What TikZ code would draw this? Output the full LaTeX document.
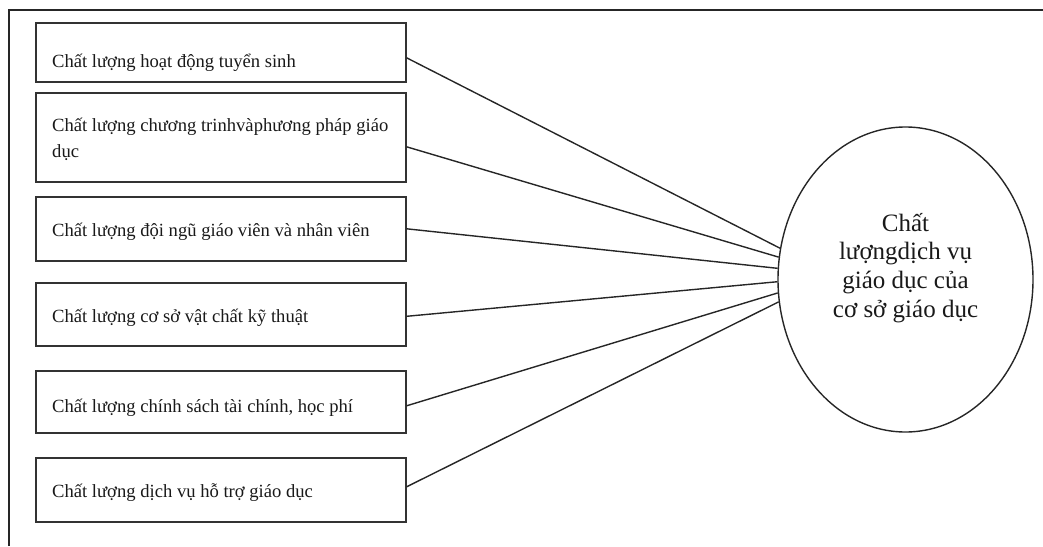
\documentclass[tikz,border=0pt]{standalone}
\usepackage{fontspec}
\setmainfont{Liberation Serif}
\usetikzlibrary{shapes.geometric}
\begin{document}
\begin{tikzpicture}[x=1pt,y=-1pt,
  frame/.style={draw=black!85, line width=1.4pt},
  factorbox/.style={draw=black!80, line width=1.6pt, rectangle, minimum width=370pt, inner sep=0pt, anchor=north west},
  boxtext/.style={anchor=base west, inner sep=0pt, font=\fontsize{18.6}{26}\selectfont, align=left, text=black!90},
  link/.style={draw=black!85, line width=1.4pt},
  goal/.style={draw=black!85, line width=1.4pt, ellipse, minimum width=255pt, minimum height=305pt, inner sep=0pt},
  goaltext/.style={align=center, inner sep=0pt, font=\fontsize{25}{28.9}\selectfont, text=black!90}]
\useasboundingbox (0,0) rectangle (1043,546);
% outer frame (only top and left visible)
\coordinate (fl) at (9,546);
\coordinate (ftl) at (9,10);
\coordinate (fr) at (1043,10);
\draw[frame] (fl) -- (ftl) -- (fr);
% factor boxes
\node[factorbox, minimum height=59pt] (b1) at (35,22) {};
\node[factorbox, minimum height=89pt] (b2) at (35,92) {};
\node[factorbox, minimum height=64pt] (b3) at (35,196) {};
\node[factorbox, minimum height=63pt] (b4) at (35,282) {};
\node[factorbox, minimum height=62pt] (b5) at (35,370) {};
\node[factorbox, minimum height=64pt] (b6) at (35,457) {};
\node[boxtext] (t1) at (52,67) {Chất lượng hoạt động tuyển sinh};
\node[boxtext, anchor=north west] (t2) at (52,118) {Chất lượng chương trinhvàphương pháp giáo\\dục};
\node[boxtext] (t3) at (52,236) {Chất lượng đội ngũ giáo viên và nhân viên};
\node[boxtext] (t4) at (52,322) {Chất lượng cơ sở vật chất kỹ thuật};
\node[boxtext] (t5) at (52,412) {Chất lượng chính sách tài chính, học phí};
\node[boxtext] (t6) at (52,497) {Chất lượng dịch vụ hỗ trợ giáo dục};
% goal ellipse
\node[goal] (E) at (905.5,279.5) {};
\node[goaltext] (Et) at (905.5,268) {Chất\\lượngdịch vụ\\giáo dục của\\cơ sở giáo dục};
% connectors
\draw[link] ([yshift=-5.5pt]b1.east) -- (E.166.7);
\draw[link] ([yshift=-9.5pt]b2.east) -- (E.170.8);
\draw[link] (b3.east) -- (E.175.3);
\draw[link] ([yshift=-2pt]b4.east) -- (E.181.1);
\draw[link] ([yshift=-4pt]b5.east) -- (E.186.1);
\draw[link] ([yshift=3pt]b6.east) -- (E.190.6);
\end{tikzpicture}
\end{document}
